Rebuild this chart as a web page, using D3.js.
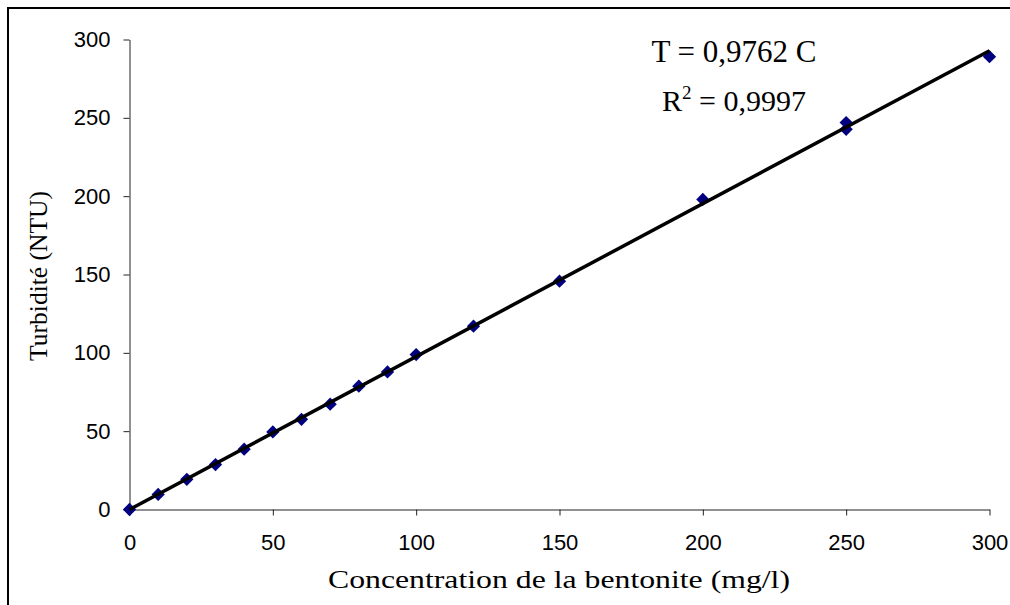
<!DOCTYPE html>
<html>
<head>
<meta charset="utf-8">
<script src="https://cdn.jsdelivr.net/npm/d3@7"></script>
<style>
  html, body { margin: 0; padding: 0; background: #fff; }
  svg { display: block; }
</style>
</head>
<body>
<svg id="chart" width="1010" height="605"></svg>
<script>
// ---- data ----
const concentration = [0, 10, 20, 30, 40, 50, 60, 70, 80, 90, 100, 120, 150, 200, 250, 250, 300];
const turbidity     = [0, 9.6, 19.3, 28.7, 38.5, 49.5, 57.6, 67.2, 78.7, 87.8, 98.9, 117, 145.7, 197.9, 247, 242.7, 289];
const xTickValues = [0, 50, 100, 150, 200, 250, 300];
const yTickValues = [0, 50, 100, 150, 200, 250, 300];
const slope = 0.9762;
const xTitle = "Concentration de la bentonite (mg/l)";
const yTitle = "Turbidité (NTU)";
const eqLine1 = "T = 0,9762 C";
const eqLine2a = "R";
const eqLine2sup = "2";
const eqLine2b = " = 0,9997";

// ---- layout ----
const svg = d3.select("#chart");
const plot = { left: 129.5, right: 989.5, top: 39.5, bottom: 509.5 };

const x = d3.scaleLinear().domain([0, 300]).range([plot.left, plot.right]);
const y = d3.scaleLinear().domain([0, 300]).range([plot.bottom, plot.top]);

// outer frame (clipped on right & bottom)
svg.append("path")
  .attr("d", "M8,605 V8 H1010")
  .attr("fill", "none")
  .attr("stroke", "#000")
  .attr("stroke-width", 2);

const tickFont = "'Liberation Sans', Arial, sans-serif";
const serifFont = "'Liberation Serif', 'Times New Roman', serif";

// y axis
const yAxis = svg.append("g")
  .attr("transform", `translate(${plot.left},0)`)
  .call(d3.axisLeft(y).tickValues(yTickValues).tickSize(6).tickSizeOuter(0).tickPadding(13));
// x axis
const xAxis = svg.append("g")
  .attr("transform", `translate(0,${plot.bottom})`)
  .call(d3.axisBottom(x).tickValues(xTickValues).tickSize(6).tickSizeOuter(0).tickPadding(19));

[yAxis, xAxis].forEach(g => {
  g.selectAll("path, line").attr("stroke", "#222").attr("stroke-width", 1);
  g.selectAll("text").attr("font-family", tickFont).attr("font-size", 22).attr("fill", "#000");
});

// markers
const diamond = d3.symbol().type(d3.symbolSquare).size(88);
svg.append("g").selectAll("path")
  .data(concentration.map((c, i) => [c, turbidity[i]]))
  .join("path")
  .attr("d", diamond)
  .attr("transform", d => `translate(${x(d[0])},${y(d[1])}) rotate(45)`)
  .attr("fill", "#000080");

// trend line
const trend = [0, 300].map(c => [c, slope * c]);
svg.append("path")
  .datum(trend)
  .attr("d", d3.line().x(d => x(d[0])).y(d => y(d[1])))
  .attr("fill", "none")
  .attr("stroke", "#000")
  .attr("stroke-width", 3.5);

// equation
svg.append("text")
  .attr("x", 734).attr("y", 62)
  .attr("text-anchor", "middle")
  .attr("font-family", serifFont).attr("font-size", 31)
  .text(eqLine1);
const r2 = svg.append("text")
  .attr("x", 734).attr("y", 111)
  .attr("text-anchor", "middle")
  .attr("font-family", serifFont).attr("font-size", 30);
r2.append("tspan").text(eqLine2a);
r2.append("tspan").attr("font-size", 19).attr("dy", -12).text(eqLine2sup);
r2.append("tspan").attr("dy", 12).text(eqLine2b);

// axis titles
svg.append("text")
  .attr("x", 559).attr("y", 588)
  .attr("text-anchor", "middle")
  .attr("font-family", serifFont).attr("font-size", 25)
  .attr("textLength", 462).attr("lengthAdjust", "spacingAndGlyphs")
  .text(xTitle);
svg.append("text")
  .attr("transform", "translate(47,276) rotate(-90)")
  .attr("text-anchor", "middle")
  .attr("font-family", serifFont).attr("font-size", 25.5)
  .attr("fill", "#000")
  .text(yTitle);
</script>
</body>
</html>
